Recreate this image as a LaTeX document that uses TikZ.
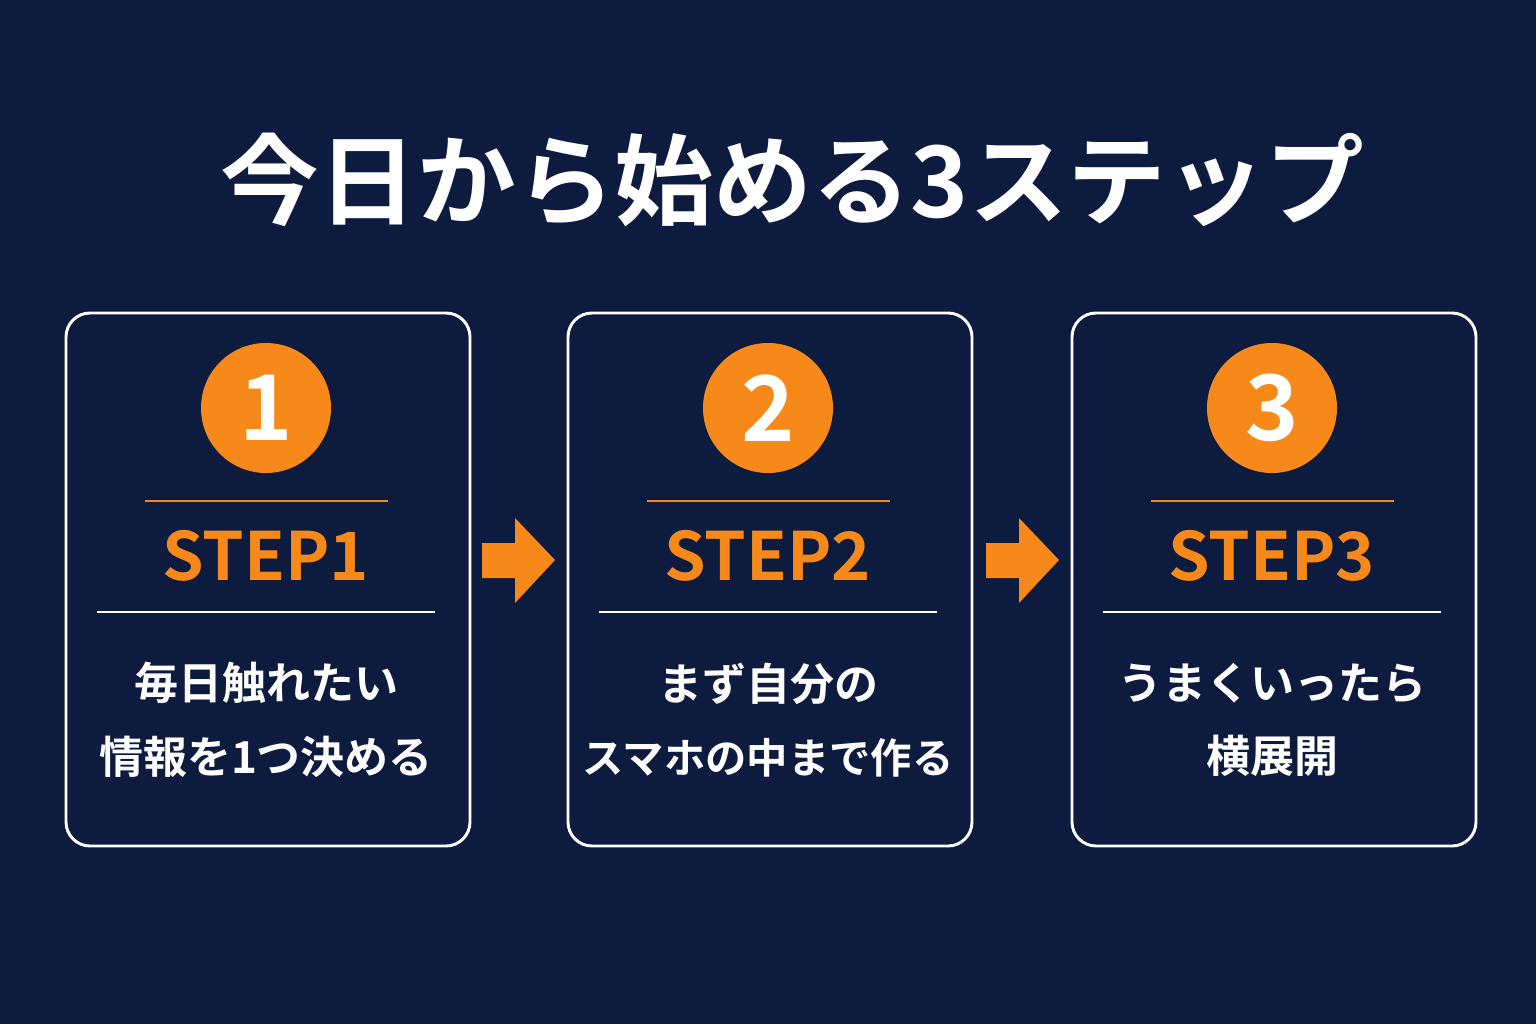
\documentclass[tikz,border=0pt]{standalone}
\usepackage{fontspec}
\setmainfont{Noto Sans CJK JP}[BoldFont={* Bold}]
\definecolor{bg}{HTML}{0D1B3F}
\definecolor{org}{HTML}{F7891A}
\begin{document}
\begin{tikzpicture}[x=0.75pt,y=-0.75pt,
 box/.style={draw=white,line width=2.2pt,rounded corners=18pt},
 num/.style={circle,fill=org,minimum size=97.5pt,inner sep=0pt,text=white,font=\bfseries\fontsize{68}{68}\selectfont},
 steplabel/.style={text=org,font=\bfseries\fontsize{50}{50}\selectfont},
 body/.style={text=white,font=\bfseries\fontsize{33}{55}\selectfont,align=center},
 oline/.style={draw=org,line width=2.2pt},
 wline/.style={draw=white,line width=2.2pt},
 arr/.style={fill=org}]
\fill[bg] (0,0) rectangle (1536,1024);
\useasboundingbox (0,0) rectangle (1536,1024);
\node[text=white,font=\bfseries\fontsize{74}{74}\selectfont] (title) at (792,180) {今日から始める3ステップ};
\foreach \i/\x/\t in {1/266/{毎日触れたい\\情報を1つ決める},2/768/{まず自分の\\{\fontsize{31}{55}\selectfont スマホの中まで作る}},3/1272/{うまくいったら\\横展開}}{
 \draw[box] (\x-200,313) rectangle (\x+204,846);
 \node[num] (c\i) at (\x,408) {\i};
 \draw[oline] (\x-121,501) -- (\x+122,501);
 \node[steplabel] (s\i) at (\x,556) {STEP\i};
 \draw[wline] (\x-169,612) -- (\x+169,612);
 \node[body] (b\i) at (\x,720) {\t};
}
\foreach \x in {482,986}{
 \fill[arr] (\x,543) -- (\x+33,543) -- (\x+33,518) -- (\x+73,560) -- (\x+33,603) -- (\x+33,578) -- (\x,578) -- cycle;
}
\end{tikzpicture}
\end{document}
